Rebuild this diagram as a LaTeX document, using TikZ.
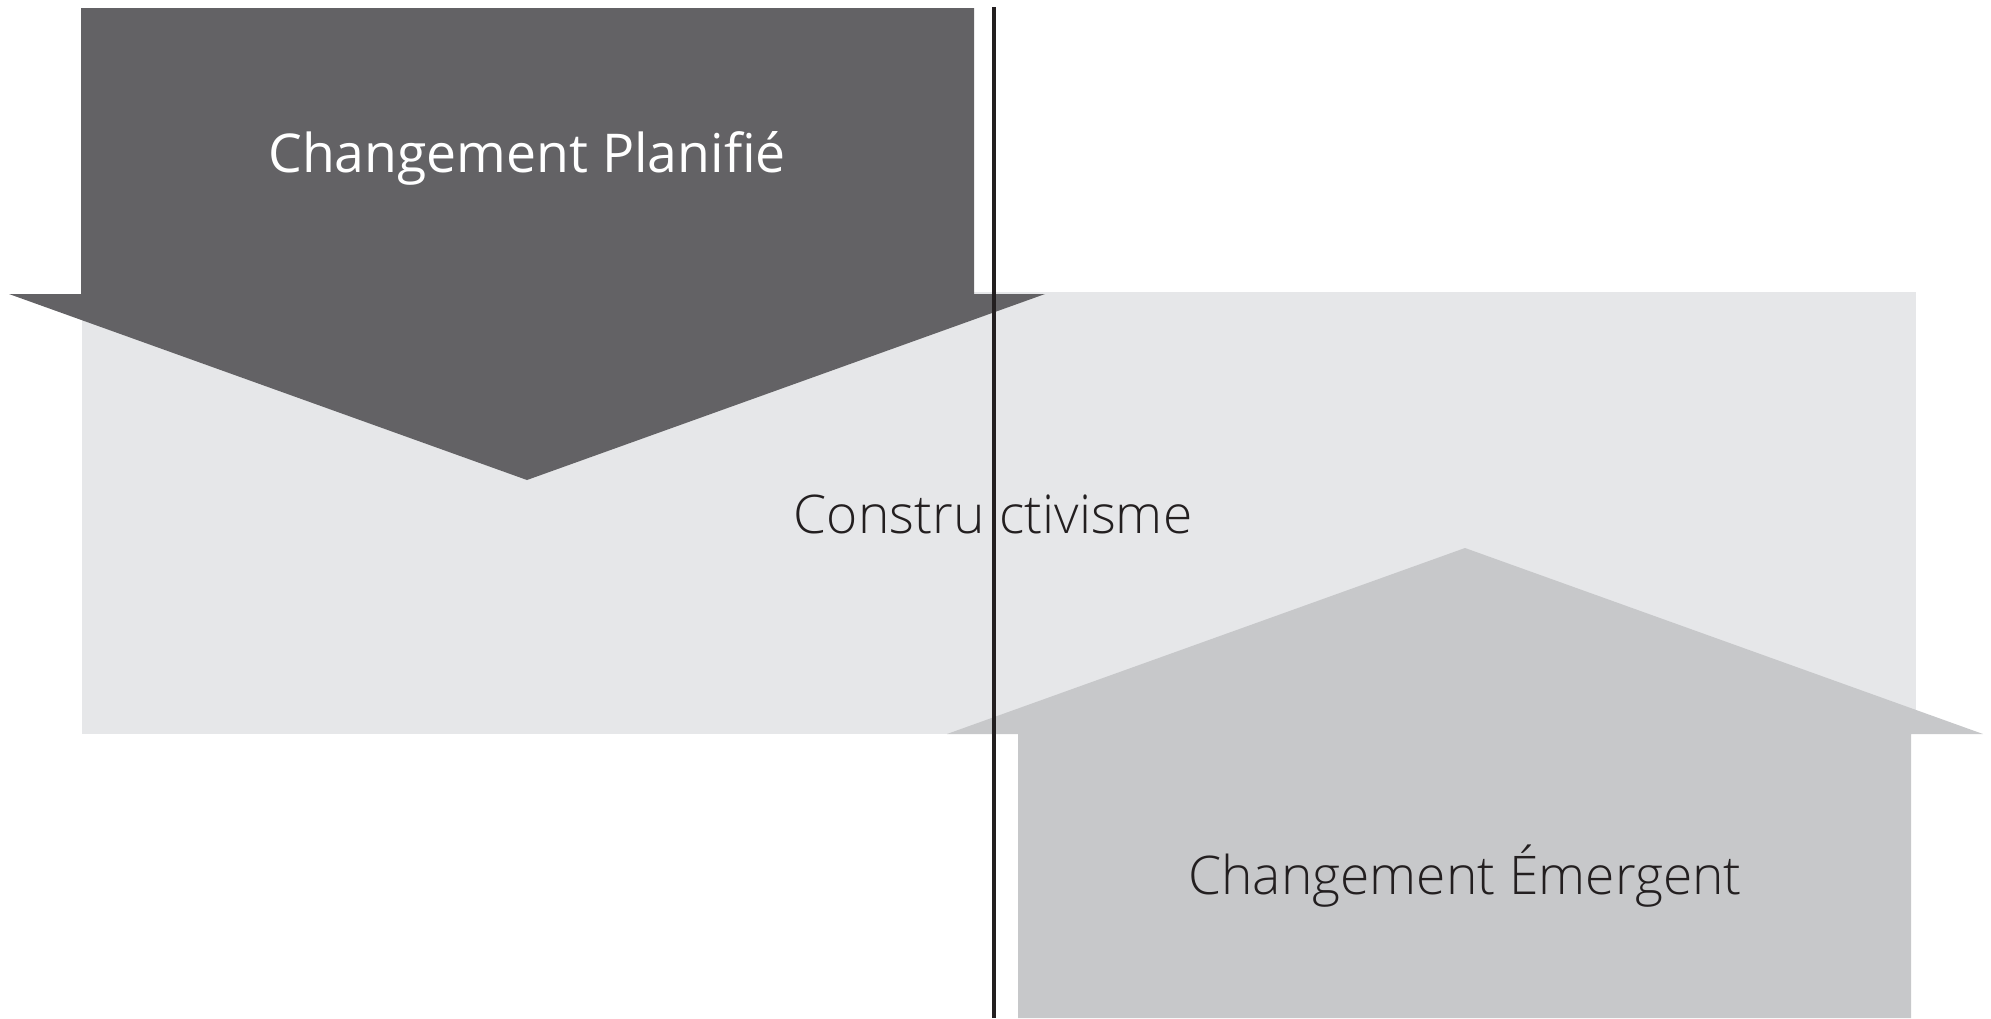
\documentclass[tikz,border=0pt]{standalone}
\usepackage{fontspec}
\setmainfont{Open Sans}[UprightFont=* Light]
\newfontfamily\regularsans{Open Sans}
\definecolor{darkarrow}{HTML}{636265}
\definecolor{lightrect}{HTML}{E6E7E9}
\definecolor{midarrow}{HTML}{C7C8CA}
\definecolor{ink}{HTML}{231F20}
\tikzset{lbl/.style={font=\fontsize{53.3}{58}\selectfont, inner sep=0pt, anchor=center}}
\begin{document}
\begin{tikzpicture}[x=1pt,y=-1pt]
\useasboundingbox (0,0) rectangle (1991,1018);
% light background rectangle
\fill[lightrect] (82,292) rectangle (1916,734);
% dark downward arrow
\fill[darkarrow] (81,8) -- (974,8) -- (974,294) -- (1045,294) -- (527,480) -- (9,294) -- (81,294) -- cycle;
% mid-grey upward arrow
\fill[midarrow] (1018,1018) -- (1018,734) -- (947,734) -- (1465,548) -- (1983,734) -- (1911,734) -- (1911,1018) -- cycle;
% texts
\node[lbl, text=white, font=\regularsans\fontsize{53.5}{58}\selectfont] (plan) at (527,158) {Changement Planifié};
\node[lbl, text=ink] (cons) at (993,514) {Constru\hspace{0.28em}ctivisme};
\node[lbl, text=ink] (emer) at (1465,876) {Changement Émergent};
% vertical line
\coordinate (top) at (993.5,7);
\coordinate (bot) at (993.5,1018);
\draw[ink, line width=4pt] (top) -- (bot);
\end{tikzpicture}
\end{document}
